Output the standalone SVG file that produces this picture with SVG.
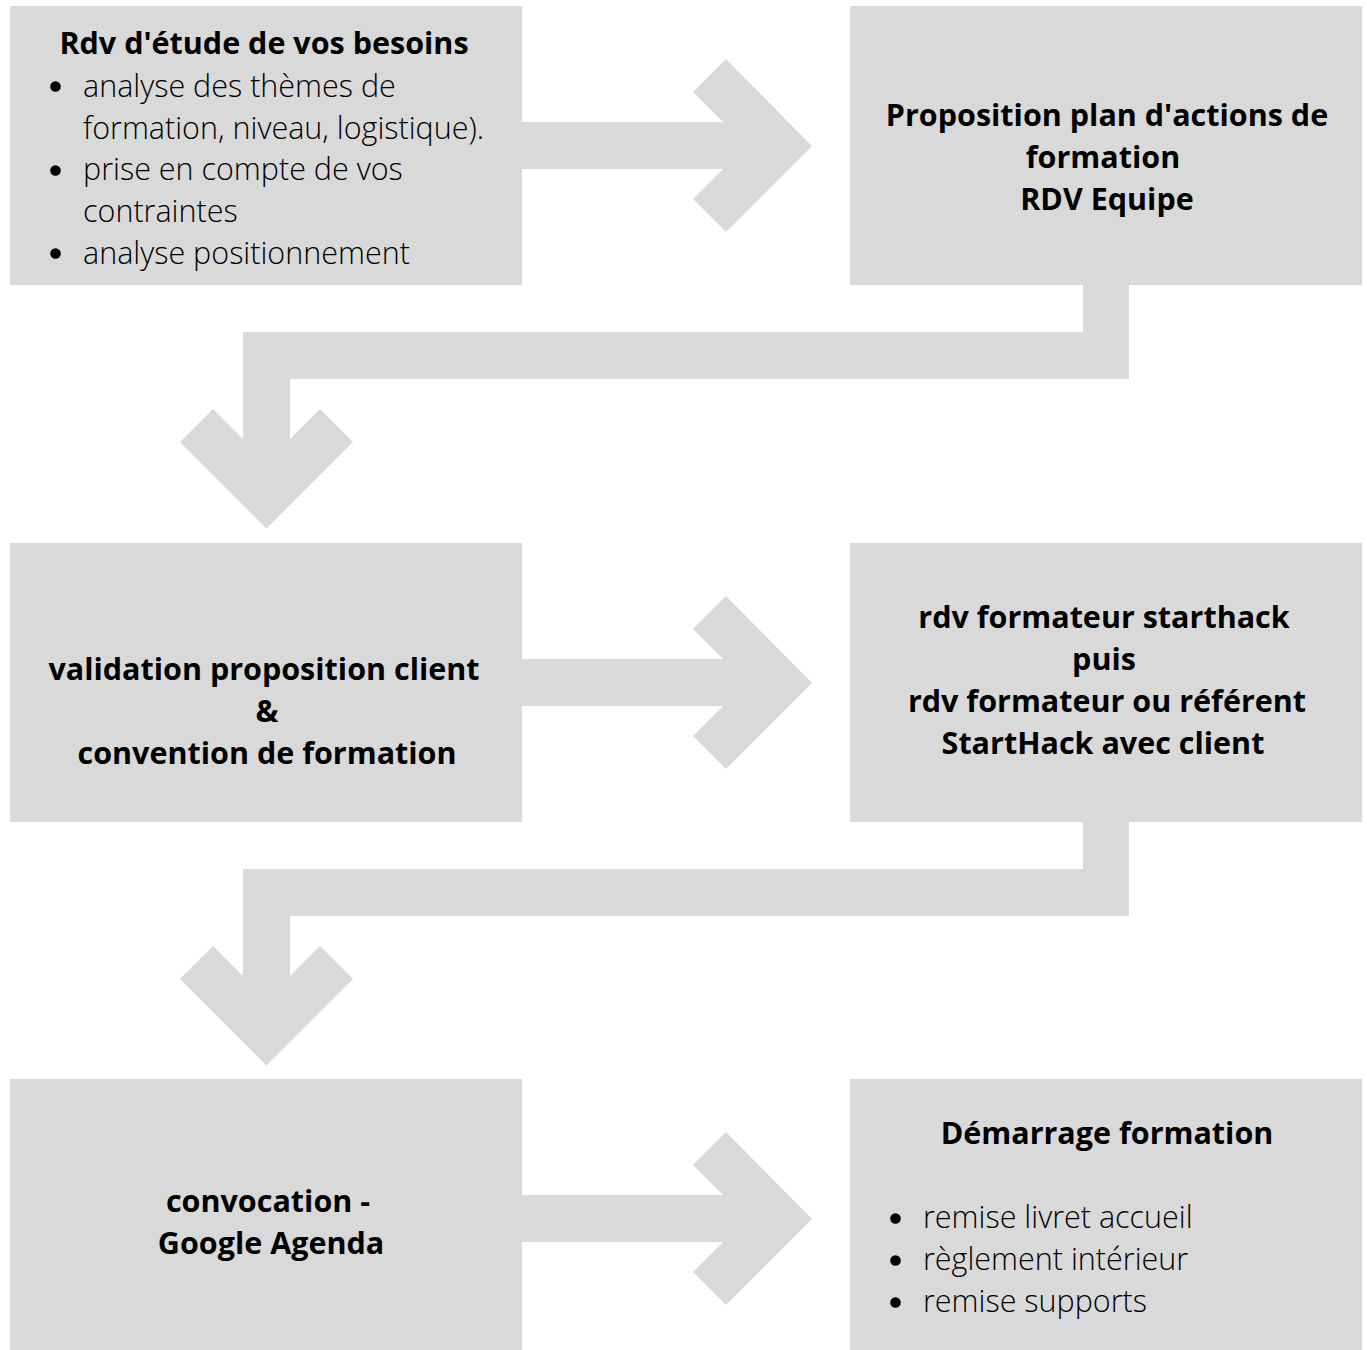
<svg xmlns="http://www.w3.org/2000/svg" width="1367" height="1350" viewBox="0 0 1367 1350">
<style>
.box{fill:#d9d9d9}
.conn{fill:#d9d9d9}
.h{font-family:"Open Sans","Liberation Sans",sans-serif;font-weight:700;font-size:30.5px;fill:#000;text-anchor:middle}
.b{font-family:"Open Sans","Liberation Sans",sans-serif;font-weight:300;font-size:30.5px;fill:#000}
.dot{fill:#000}
</style>
<rect width="1367" height="1350" fill="#fff"/>
<g id="connectors">
<path class="conn" d="M522,122 H723 L693,92 L726,59 L812,146 L726,232 L693,199 L723,169 H522 Z"/>
<path class="conn" d="M522,659 H723 L693,629 L726,596 L812,683 L726,769 L693,736 L723,706 H522 Z"/>
<path class="conn" d="M522,1195 H723 L693,1165 L726,1132 L812,1219 L726,1305 L693,1272 L723,1242 H522 Z"/>
<path class="conn" d="M1083,285 H1129 V379 H290 V439 L320,409 L353,442 L266.5,528.5 L180,442 L213,409 L243,439 V332 H1083 Z"/>
<path class="conn" d="M1083,822 H1129 V916 H290 V976 L320,946 L353,979 L266.5,1065.5 L180,979 L213,946 L243,976 V869 H1083 Z"/>
</g>
<g id="node1">
<rect class="box" x="10" y="6" width="512" height="279"/>
<text class="h" x="264" y="54">Rdv d'étude de vos besoins</text>
<circle class="dot" cx="55.5" cy="86.5" r="5.3"/>
<text class="b" x="83" y="97">analyse des thèmes de</text>
<text class="b" x="83" y="139">formation, niveau, logistique).</text>
<circle class="dot" cx="55.5" cy="170.5" r="5.3"/>
<text class="b" x="83" y="180">prise en compte de vos</text>
<text class="b" x="83" y="222">contraintes</text>
<circle class="dot" cx="55.5" cy="253.5" r="5.3"/>
<text class="b" x="83" y="264">analyse positionnement</text>
</g>
<g id="node2">
<rect class="box" x="850" y="6" width="512" height="279"/>
<text class="h" x="1107" y="126">Proposition plan d'actions de</text>
<text class="h" x="1103" y="168">formation</text>
<text class="h" x="1107" y="210">RDV Equipe</text>
</g>
<g id="node3">
<rect class="box" x="10" y="543" width="512" height="279"/>
<text class="h" x="264" y="680">validation proposition client</text>
<text class="h" x="267" y="722">&amp;</text>
<text class="h" x="267" y="764">convention de formation</text>
</g>
<g id="node4">
<rect class="box" x="850" y="543" width="512" height="279"/>
<text class="h" x="1104" y="628">rdv formateur starthack</text>
<text class="h" x="1104" y="670">puis</text>
<text class="h" x="1107" y="712">rdv formateur ou référent</text>
<text class="h" x="1103" y="754">StartHack avec client</text>
</g>
<g id="node5">
<rect class="box" x="10" y="1079" width="512" height="279"/>
<text class="h" x="268" y="1212">convocation -</text>
<text class="h" x="271" y="1254">Google Agenda</text>
</g>
<g id="node6">
<rect class="box" x="850" y="1079" width="512" height="279"/>
<text class="h" x="1107" y="1144">Démarrage formation</text>
<circle class="dot" cx="895.5" cy="1218.5" r="5.3"/>
<text class="b" x="923" y="1228">remise livret accueil</text>
<circle class="dot" cx="895.5" cy="1260.5" r="5.3"/>
<text class="b" x="923" y="1270">règlement intérieur</text>
<circle class="dot" cx="895.5" cy="1302.5" r="5.3"/>
<text class="b" x="923" y="1312">remise supports</text>
</g>
</svg>
